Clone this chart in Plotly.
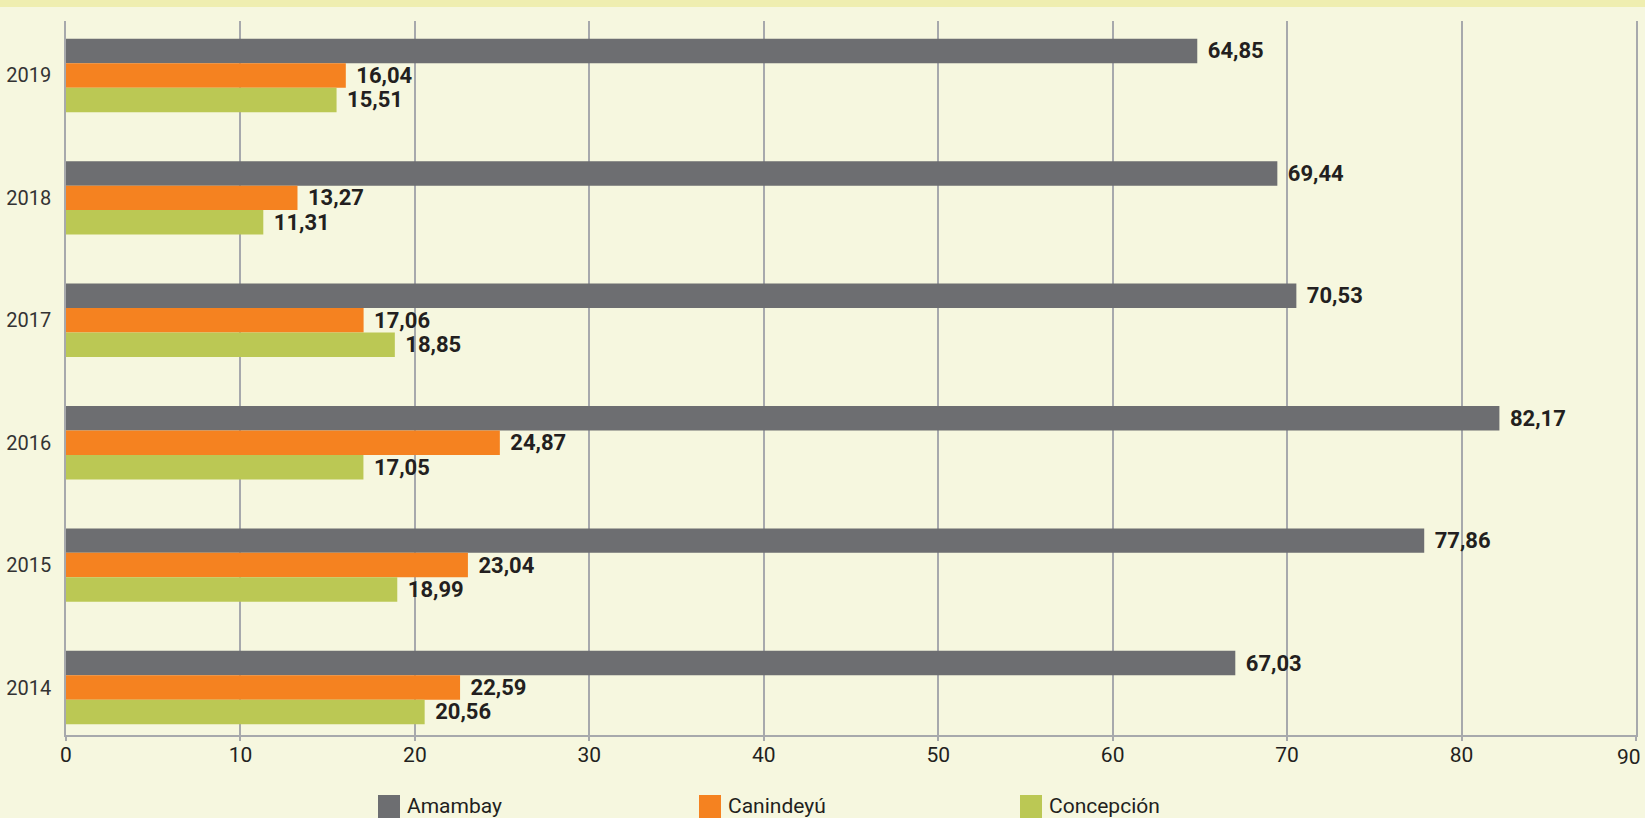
import plotly.graph_objects as go

years = ["2019", "2018", "2017", "2016", "2015", "2014"]
series_names = ["Amambay", "Canindeyú", "Concepción"]
amambay = [64.85, 69.44, 70.53, 82.17, 77.86, 67.03]
canindeyu = [16.04, 13.27, 17.06, 24.87, 23.04, 22.59]
concepcion = [15.51, 11.31, 18.85, 17.05, 18.99, 20.56]
x_ticks = [0, 10, 20, 30, 40, 50, 60, 70, 80, 90]
x_tick_text = ["0", "10", "20", "30", "40", "50", "60", "70", "80", "90"]

colors = ["#6D6E71", "#F58220", "#BBC854"]
FONT = "Roboto, Liberation Sans, sans-serif"
BG = "#F6F7DF"
GRID = "#A7A9AC"

W, H = 1645, 818
L, R, T, B = 66, 1636, 21, 735

fig = go.Figure()
for name, vals, col in zip(series_names, [amambay, canindeyu, concepcion], colors):
    fig.add_trace(go.Bar(
        y=years, x=vals, orientation="h", name=name,
        marker=dict(color=col, line=dict(width=0)),
        texttemplate="\u2004%{x:.2f}", textposition="outside",
        textfont=dict(family=FONT, size=22, color="#231F20", weight="bold"),
        constraintext="none", cliponaxis=False, showlegend=False,
    ))


def px_x(p):
    return (p - L) / (R - L)


def px_y(p):
    return (B - p) / (B - T)


shapes = [dict(type="rect", xref="paper", yref="paper", x0=-0.1, x1=1.1,
               ysizemode="pixel", yanchor=1, y0=T, y1=T - 7,
               fillcolor="#EFEEB0", line=dict(width=0), layer="below")]

annotations = []
legend_box_x = [378, 699, 1020]
for name, col, bx in zip(series_names, colors, legend_box_x):
    shapes.append(dict(type="rect", xref="paper", yref="paper",
                       x0=px_x(bx), x1=px_x(bx + 22), y0=px_y(795), y1=px_y(822),
                       fillcolor=col, line=dict(width=0)))
    annotations.append(dict(xref="paper", yref="paper", x=px_x(bx + 27), y=px_y(820),
                            xanchor="left", yanchor="bottom", showarrow=False,
                            text=name, font=dict(family=FONT, size=21, color="#231F20")))

# last x tick label sits flush against the right page edge in the reference
annotations.append(dict(xref="x", yref="paper", x=x_ticks[-1], xshift=7, y=px_y(757),
                        xanchor="right", yanchor="middle", showarrow=False,
                        text=x_tick_text[-1], font=dict(family=FONT, size=21, color="#231F20")))
shown_tick_text = x_tick_text[:-1] + [""]

fig.update_layout(
    width=W, height=H,
    paper_bgcolor=BG, plot_bgcolor=BG,
    margin=dict(l=L, r=W - R, t=T, b=H - B, pad=0),
    barmode="group", bargap=0.4, bargroupgap=0,
    separators=",.",
    shapes=shapes, annotations=annotations,
    showlegend=False,
    xaxis=dict(range=[0, 90], tickvals=x_ticks, ticktext=shown_tick_text,
               showgrid=True, gridcolor=GRID, gridwidth=1.5,
               zeroline=False, showline=True, linecolor=GRID, linewidth=1.5,
               ticks="outside", ticklen=4, tickcolor=GRID, tickwidth=1.5,
               tickfont=dict(family=FONT, size=21, color="#231F20"), ticklabelstandoff=-4,
               automargin=False, fixedrange=True),
    yaxis=dict(range=[5.388, -0.445], showgrid=False, zeroline=False,
               showline=True, mirror=True, linecolor=GRID, linewidth=1.5,
               ticks="", tickfont=dict(family=FONT, size=20, color="#333333"),
               ticklabelstandoff=9, automargin=False, fixedrange=True),
)

fig.write_html("out.html", config={"displayModeBar": False},
               post_script="document.body.style.margin='0';")
